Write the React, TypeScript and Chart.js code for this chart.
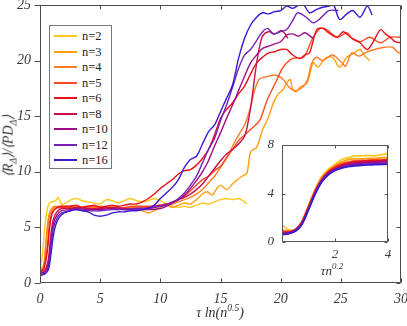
import React, { useEffect, useRef } from "react";
import { Chart, registerables } from "chart.js";
Chart.register(...registerables);

// ---------- data ----------
const seriesNames = ["n=2", "n=3", "n=4", "n=5", "n=6", "n=8", "n=10", "n=12", "n=16"];
const seriesColors = ["#FFC81E", "#FFA014", "#FF7D28", "#FF4A22", "#EC1018", "#C8104E", "#A00C86", "#7424B8", "#3C18D4"];

const xTicks = [0, 5, 10, 15, 20, 25, 30];
const yTicks = [0, 5, 10, 15, 20, 25];

const n2X = [0, 0.2, 0.4, 0.6, 0.8, 1.0, 1.3, 1.5, 1.8, 2.2, 2.6, 3, 3.5, 4, 4.5, 5, 5.5, 6, 6.5, 7, 7.5, 8, 8.5, 9, 9.5, 10, 10.5, 11, 11.5, 12, 12.5, 13, 13.5, 14, 14.5, 15, 15.5, 16, 16.5, 17, 17.2];
const n2Y = [1.2, 2.5, 5.0, 6.6, 7.2, 7.3, 7.4, 7.7, 7.1, 7.2, 7.5, 7.6, 7.4, 7.3, 7.2, 7.1, 7.5, 7.4, 7.2, 7.4, 7.6, 7.4, 7.3, 7.4, 7.6, 7.4, 7.1, 6.9, 6.8, 6.9, 6.8, 7.0, 7.2, 7.1, 7.3, 7.5, 7.6, 7.5, 7.6, 7.3, 7.1];

const n3X = [0, 0.3, 0.5, 0.7, 0.9, 1.2, 1.8, 2.5, 3, 4, 5, 6, 7, 7.5, 8, 8.5, 9, 9.5, 10, 10.5, 11, 11.5, 12, 12.5, 13, 13.5, 13.9, 14.3, 14.7, 15, 15.5, 16, 16.4, 16.8, 17.2, 17.5, 18, 18.5, 18.9, 19.4, 19.8, 20.2, 20.5, 20.8, 21, 21.3, 21.6, 22.2, 22.7, 23.1, 23.7, 24.3, 24.9, 25.5, 26, 26.6, 27, 27.4];
const n3Y = [1.2, 1.6, 3.8, 5.9, 6.6, 6.9, 6.8, 6.9, 6.8, 6.7, 6.8, 6.9, 6.6, 6.9, 6.8, 6.5, 6.3, 6.5, 6.8, 7.0, 6.8, 7.0, 7.2, 7.1, 7.5, 8.0, 8.2, 7.9, 8.5, 8.8, 8.4, 8.9, 9.3, 9.6, 9.9, 11.8, 12.2, 13.8, 14.7, 16.2, 17.0, 17.4, 18.0, 18.3, 17.4, 17.2, 17.6, 18.0, 19.8, 19.4, 20.2, 20.3, 19.4, 20.3, 20.6, 21.0, 20.4, 20.0];

const n4X = [0, 0.3, 0.5, 0.7, 0.9, 1.2, 1.8, 2.5, 3, 4, 5, 6, 7, 8, 9, 10, 10.5, 11, 11.5, 12, 12.5, 13, 13.5, 14, 14.5, 15, 15.5, 16, 16.5, 17, 17.5, 17.8, 18.2, 18.6, 19, 19.5, 20, 20.3, 20.8, 21.3, 21.8, 22.2, 22.6, 23, 23.5, 24.3, 25.1, 25.4, 25.9, 26.5, 27, 27.8, 28.7, 29.3, 29.8, 30];
const n4Y = [1.1, 1.4, 3.6, 5.6, 6.4, 6.8, 6.9, 6.8, 6.9, 6.8, 6.9, 6.8, 6.7, 6.8, 6.7, 6.9, 7.0, 7.1, 7.3, 7.5, 7.7, 8.0, 8.4, 9.0, 9.6, 10.4, 11.2, 12.3, 13.3, 14.2, 15.8, 17.2, 18.3, 18.5, 18.6, 18.7, 18.5, 18.2, 17.5, 17.3, 17.6, 18.2, 19.8, 20.3, 20.0, 20.5, 19.8, 19.5, 20.7, 20.4, 20.7, 21.0, 21.2, 21.2, 20.7, 20.8];

const n5X = [0, 0.3, 0.6, 0.8, 1.0, 1.3, 1.8, 2.5, 3, 4, 5, 6, 7, 8, 9, 10, 10.5, 11, 11.5, 12, 12.5, 13, 13.5, 14, 14.5, 15, 15.5, 16, 16.5, 17, 17.5, 18, 18.3, 18.9, 19.7, 20.2, 21, 21.9, 22.7, 23.3, 23.8, 24.7, 25.5, 26, 26.6, 27.4, 28.3, 29.1, 30];
const n5Y = [1.0, 1.3, 3.2, 5.4, 6.3, 6.7, 6.8, 6.8, 6.7, 6.9, 6.8, 6.7, 6.8, 6.9, 6.9, 7.0, 7.0, 7.2, 7.5, 7.8, 8.3, 8.8, 9.3, 9.6, 10.1, 10.5, 11.3, 12.0, 12.8, 13.3, 13.8, 14.3, 14.7, 16.5, 18.3, 19.4, 20.2, 20.3, 22.1, 22.9, 22.8, 22.1, 22.5, 21.9, 21.7, 22.1, 21.6, 22.1, 22.1];

const n6X = [0, 0.3, 0.6, 0.8, 1.0, 1.3, 1.8, 2.5, 3, 3.5, 4, 4.5, 5, 5.5, 6, 6.5, 7, 7.5, 8, 8.5, 9, 9.5, 10, 10.5, 11, 11.5, 12, 12.5, 13, 13.5, 14, 14.5, 15, 15.5, 16, 16.5, 17, 17.5, 18, 18.5, 19, 19.5, 20, 20.5, 21, 21.6, 22, 22.4, 23, 23.5, 24, 24.7, 25.2, 25.8, 26.6, 27.2, 27.7, 28.3, 28.7, 29.1, 29.5, 30];
const n6Y = [1.0, 1.2, 2.8, 5.0, 6.2, 6.7, 6.9, 6.9, 7.0, 6.8, 6.9, 7.0, 6.8, 6.9, 7.0, 6.9, 7.0, 7.1, 7.1, 7.3, 7.6, 8.0, 8.5, 8.9, 9.3, 9.8, 10.1, 10.2, 10.6, 11.2, 12.0, 13.3, 14.8, 15.6, 16.2, 17.0, 17.7, 18.8, 19.8, 20.3, 20.7, 20.8, 21.0, 21.0, 20.5, 20.2, 20.5, 20.7, 22.8, 22.9, 22.5, 22.1, 22.6, 22.1, 21.6, 21.0, 21.7, 22.8, 22.4, 22.1, 21.7, 21.6];

const n8X = [0, 0.4, 0.7, 0.9, 1.1, 1.4, 1.8, 2.5, 3, 4, 5, 6, 7, 8, 9, 10, 10.5, 11, 11.5, 12, 12.5, 13, 13.5, 14, 14.5, 15, 15.5, 16, 16.5, 17, 17.3, 17.6, 17.9, 18.2, 18.5, 19, 19.5, 20, 20.3, 20.6];
const n8Y = [0.9, 1.1, 2.2, 4.3, 5.7, 6.4, 6.7, 6.7, 6.8, 6.7, 6.7, 6.8, 6.7, 6.7, 6.8, 7.0, 7.1, 7.3, 7.5, 7.7, 8.0, 8.4, 8.9, 9.6, 10.3, 11.0, 11.6, 12.0, 12.5, 13.2, 14.5, 16.5, 19.0, 21.0, 22.2, 22.6, 22.4, 22.7, 22.5, 22.0];

const n10X = [0, 0.4, 0.7, 0.9, 1.1, 1.4, 1.8, 2.5, 3, 4, 5, 6, 7, 8, 9, 10, 10.5, 11, 11.5, 12, 12.5, 13, 13.5, 14, 14.5, 15, 15.5, 16, 16.5, 17, 17.5, 18, 18.5, 19, 19.5, 20, 20.5, 21, 21.5, 22, 22.7];
const n10Y = [0.9, 1.0, 1.8, 3.8, 5.3, 6.1, 6.5, 6.6, 6.7, 6.6, 6.6, 6.7, 6.6, 6.6, 6.6, 6.7, 6.9, 7.2, 7.5, 7.9, 8.5, 9.2, 10.0, 11.0, 12.3, 13.5, 14.8, 16.0, 17.3, 18.6, 19.8, 20.5, 21.1, 21.3, 21.5, 21.7, 22.3, 22.4, 22.2, 22.5, 22.0];

const n12X = [0, 0.4, 0.7, 0.9, 1.1, 1.4, 1.8, 2.5, 3, 4, 5, 6, 7, 8, 9, 10, 10.5, 11, 11.5, 12, 12.5, 13, 13.5, 14, 14.5, 15, 15.5, 16, 16.5, 17, 17.5, 18, 18.5, 18.9, 19.4, 20, 20.5, 21, 21.4, 22, 22.7, 23.3, 24, 24.8];
const n12Y = [0.8, 0.9, 1.5, 3.2, 4.9, 5.8, 6.3, 6.5, 6.6, 6.5, 6.5, 6.6, 6.6, 6.7, 6.7, 6.9, 7.0, 7.2, 7.6, 8.1, 8.8, 9.6, 10.8, 12.0, 13.0, 14.6, 16.0, 17.6, 19.3, 20.5, 21.0, 21.8, 22.6, 22.9, 22.4, 22.6, 22.8, 23.6, 24.3, 24.0, 23.4, 23.8, 24.5, 24.5];

const n16X = [0, 0.4, 0.7, 0.9, 1.1, 1.3, 1.6, 2, 2.5, 3, 3.5, 4, 4.5, 5, 5.5, 6, 6.5, 7, 7.5, 8, 8.5, 9, 9.5, 10, 10.5, 11, 11.5, 12, 12.5, 13, 13.5, 14, 14.5, 15, 15.5, 16, 16.5, 17, 17.5, 18, 18.5, 19, 19.5, 20, 20.5, 21, 21.5, 21.8, 22.4, 23, 23.5, 24, 24.4, 24.9, 25.5, 26, 26.6, 27.2, 27.6];
const n16Y = [0.7, 0.8, 1.2, 2.5, 4.2, 5.2, 5.9, 6.3, 6.5, 6.6, 6.5, 6.4, 6.1, 6.0, 6.1, 6.3, 6.4, 6.4, 6.5, 6.5, 6.6, 6.7, 7.0, 7.6, 8.1, 8.6, 9.3, 10.4, 11.1, 11.4, 12.5, 13.6, 14.2, 15.4, 16.6, 17.8, 20.2, 22.0, 23.2, 23.9, 24.3, 24.2, 24.4, 24.5, 24.9, 24.7, 25.0, 25.2, 24.3, 24.6, 24.8, 24.9, 25.0, 23.7, 24.2, 24.5, 23.9, 24.9, 24.1];

const mainX = [n2X, n3X, n4X, n5X, n6X, n8X, n10X, n12X, n16X];
const mainY = [n2Y, n3Y, n4Y, n5Y, n6Y, n8Y, n10Y, n12Y, n16Y];

// inset
const insetX = [0, 0.25, 0.5, 0.75, 1.0, 1.25, 1.5, 1.75, 2.0, 2.25, 2.5, 2.75, 3.0, 3.25, 3.5, 3.75, 4.0];
const inN2 = [1.4, 1.0, 1.0, 1.7, 3.0, 4.3, 5.4, 6.0, 6.4, 6.8, 6.95, 7.1, 7.1, 7.15, 7.1, 7.2, 7.3];
const inN3 = [1.0, 0.9, 1.0, 1.7, 3.0, 4.3, 5.3, 5.9, 6.3, 6.6, 6.8, 6.85, 6.85, 6.9, 6.9, 6.95, 6.95];
const inN4 = [0.9, 0.9, 1.0, 1.6, 2.9, 4.2, 5.2, 5.8, 6.2, 6.45, 6.6, 6.7, 6.7, 6.75, 6.8, 6.8, 6.8];
const inN5 = [0.85, 0.85, 1.0, 1.6, 2.9, 4.2, 5.2, 5.8, 6.2, 6.45, 6.55, 6.65, 6.7, 6.7, 6.75, 6.75, 6.8];
const inN6 = [0.8, 0.8, 1.0, 1.6, 2.8, 4.1, 5.1, 5.75, 6.1, 6.35, 6.5, 6.6, 6.65, 6.7, 6.7, 6.7, 6.75];
const inN8 = [0.75, 0.8, 1.0, 1.6, 2.8, 4.1, 5.1, 5.7, 6.05, 6.3, 6.45, 6.55, 6.6, 6.6, 6.65, 6.65, 6.7];
const inN10 = [0.7, 0.75, 0.95, 1.55, 2.75, 4.05, 5.05, 5.65, 6.0, 6.2, 6.35, 6.45, 6.5, 6.55, 6.55, 6.6, 6.6];
const inN12 = [0.65, 0.7, 0.9, 1.5, 2.7, 4.0, 5.0, 5.6, 5.95, 6.15, 6.3, 6.35, 6.4, 6.45, 6.45, 6.5, 6.5];
const inN16 = [0.6, 0.7, 0.88, 1.45, 2.65, 3.95, 4.95, 5.55, 5.9, 6.1, 6.22, 6.28, 6.33, 6.36, 6.38, 6.4, 6.42];
const insetY = [inN2, inN3, inN4, inN5, inN6, inN8, inN10, inN12, inN16];
const insetXTicks = [2, 4];
const insetYTicks = [0, 4, 8];

// ---------- plugin: MATLAB-like box, ticks, tick labels ----------
const framePlugin = {
  id: "frame",
  afterDatasetsDraw(chart: any, _args: any, opts: any) {
    const { ctx, chartArea: a, scales } = chart;
    ctx.save();
    ctx.strokeStyle = opts.color;
    ctx.lineWidth = 1;
    const L = Math.round(a.left) + 0.5, R = Math.round(a.right) - 0.5;
    const T = Math.round(a.top) + 0.5, B = Math.round(a.bottom) - 0.5;
    ctx.beginPath();
    ctx.rect(L, T, R - L, B - T);
    ctx.stroke();
    const len = opts.tickLen;
    ctx.beginPath();
    for (const v of opts.xTicks) {
      const px = Math.round(scales.x.getPixelForValue(v)) + 0.5;
      ctx.moveTo(px, B); ctx.lineTo(px, B - len);
      ctx.moveTo(px, T); ctx.lineTo(px, T + len);
    }
    for (const v of opts.yTicks) {
      const py = Math.round(scales.y.getPixelForValue(v)) + 0.5;
      if (opts.leftOut) { ctx.moveTo(L, py); ctx.lineTo(L - len - 2, py); }
      else { ctx.moveTo(L, py); ctx.lineTo(L + len, py); }
      ctx.moveTo(R, py); ctx.lineTo(R - len, py);
    }
    ctx.stroke();
    ctx.fillStyle = opts.labelColor;
    ctx.font = opts.font;
    ctx.textAlign = "center";
    ctx.textBaseline = "middle";
    for (const v of opts.xLabels) {
      ctx.fillText(String(v), scales.x.getPixelForValue(v), a.bottom + opts.xLabelGap);
    }
    ctx.textAlign = "right";
    for (const v of opts.yLabels) {
      ctx.fillText(String(v), a.left - opts.yLabelGap, scales.y.getPixelForValue(v));
    }
    ctx.restore();
  },
};

function makeDatasets(xs: number[][], ys: number[][], width: number) {
  return seriesNames.map((name, i) => ({
    label: name,
    data: xs[i].map((x, j) => ({ x, y: ys[i][j] })),
    borderColor: seriesColors[i],
    backgroundColor: seriesColors[i],
    borderWidth: width,
    pointRadius: 0,
    fill: false,
    tension: 0.3,
    order: seriesNames.length - i,
  }));
}

export default function App() {
  const mainRef = useRef<HTMLCanvasElement>(null);
  const insetRef = useRef<HTMLCanvasElement>(null);

  useEffect(() => {
    const main = new Chart(mainRef.current!, {
      type: "line",
      data: { datasets: makeDatasets(mainX, mainY, 1.4) as any },
      options: {
        responsive: false,
        animation: false,
        events: [],
        layout: { padding: { left: 40, right: 6, top: 5, bottom: 43 } },
        scales: {
          x: { type: "linear", min: 0, max: 30, display: false },
          y: { type: "linear", min: 0, max: 25, display: false },
        },
        plugins: {
          legend: { display: false },
          tooltip: { enabled: false },
          frame: {
            color: "#4a4a4a",
            labelColor: "#3a3a3a",
            font: "italic 14px 'Liberation Serif'",
            tickLen: 4,
            leftOut: true,
            xTicks: xTicks,
            yTicks: yTicks,
            xLabels: xTicks,
            yLabels: yTicks,
            xLabelGap: 16,
            yLabelGap: 9,
          },
        } as any,
      },
      plugins: [framePlugin],
    });

    const insetSeries = insetY.map(() => insetX);
    const inset = new Chart(insetRef.current!, {
      type: "line",
      data: { datasets: makeDatasets(insetSeries, insetY, 1.8) as any },
      options: {
        responsive: false,
        animation: false,
        events: [],
        layout: { padding: { left: 32, right: 12, top: 15, bottom: 38 } },
        scales: {
          x: { type: "linear", min: 0, max: 4, display: false },
          y: { type: "linear", min: 0, max: 8, display: false },
        },
        plugins: {
          legend: { display: false },
          tooltip: { enabled: false },
          frame: {
            color: "#555555",
            labelColor: "#3a3a3a",
            font: "italic 13px 'Liberation Serif'",
            tickLen: 3,
            leftOut: false,
            xTicks: insetXTicks,
            yTicks: insetYTicks,
            xLabels: insetXTicks,
            yLabels: insetYTicks,
            xLabelGap: 13,
            yLabelGap: 8,
          },
        } as any,
      },
      plugins: [framePlugin],
    });

    return () => {
      main.destroy();
      inset.destroy();
    };
  }, []);

  const serif = "'Liberation Serif', 'Times New Roman', serif";

  return (
    <div style={{ position: "fixed", left: 0, top: 0, width: 407, height: 326, background: "#ffffff", overflow: "hidden", fontFamily: serif }}>
      <canvas ref={mainRef} width={407} height={326} style={{ position: "absolute", left: 0, top: 0 }} />
      <canvas ref={insetRef} width={150} height={150} style={{ position: "absolute", left: 250, top: 130 }} />

      {/* legend */}
      <div style={{ position: "absolute", left: 49, top: 25, width: 61, height: 142, border: "1px solid #7a7a7a", background: "#ffffff" }}>
        {seriesNames.map((name, i) => (
          <div key={name} style={{ position: "absolute", left: 0, top: 10 + i * 15.5 - 8, height: 16, width: 61 }}>
            <div style={{ position: "absolute", left: 4, top: 7, width: 23, height: 2, background: seriesColors[i] }} />
            <div style={{ position: "absolute", left: 32, top: 0, fontSize: 12.5, lineHeight: "16px", color: "#222", whiteSpace: "nowrap" }}>{name}</div>
          </div>
        ))}
      </div>

      {/* x-axis title */}
      <div style={{ position: "absolute", left: 220, top: 312, transform: "translate(-50%, -50%)", fontStyle: "italic", fontSize: 14, color: "#333", whiteSpace: "nowrap" }}>
        τ ln(n<sup style={{ fontSize: 9.5 }}>0.5</sup>)
      </div>

      {/* y-axis title */}
      <div style={{ position: "absolute", left: 9, top: 146, transform: "translate(-50%, -50%) rotate(-90deg)", fontStyle: "italic", fontSize: 14, color: "#333", whiteSpace: "nowrap" }}>
        ⟨R<sub style={{ fontSize: 9.5 }}>Δ</sub>⟩/⟨PD<sub style={{ fontSize: 9.5 }}>Δ</sub>⟩
      </div>

      {/* inset x title */}
      <div style={{ position: "absolute", left: 332, top: 270, transform: "translate(-50%, -50%)", fontStyle: "italic", fontSize: 13, color: "#333", whiteSpace: "nowrap" }}>
        τn<sup style={{ fontSize: 9 }}>0.2</sup>
      </div>
    </div>
  );
}
